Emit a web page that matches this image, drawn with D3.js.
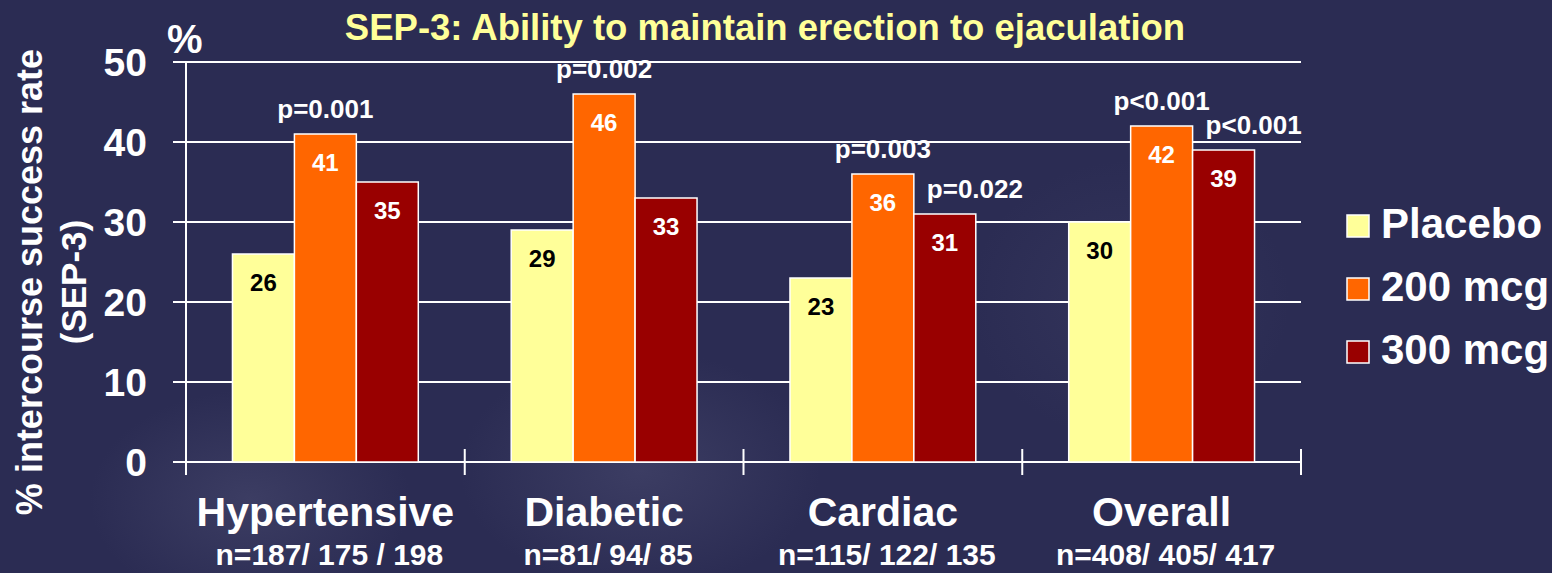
<!DOCTYPE html>
<html>
<head>
<meta charset="utf-8">
<script src="https://cdn.jsdelivr.net/npm/d3@7"></script>
<style>
  html, body { margin: 0; padding: 0; background: #2b2c53; }
  svg { display: block; font-family: "Liberation Sans", Arial, sans-serif; font-weight: bold; }
</style>
</head>
<body>
<div id="chart"></div>
<script>
  const categories = ['Hypertensive', 'Diabetic', 'Cardiac', 'Overall']
  const sampleSizes = ['n=187/ 175 / 198', 'n=81/ 94/ 85', 'n=115/ 122/ 135', 'n=408/ 405/ 417']
  const series = ['Placebo', '200 mcg', '300 mcg']
  const placebo = [26, 29, 23, 30]
  const mcg200 = [41, 46, 36, 42]
  const mcg300 = [35, 33, 31, 39]
  const pValues200 = ['p=0.001', 'p=0.002', 'p=0.003', 'p<0.001']
  const pValues300 = ['', '', 'p=0.022', 'p<0.001']
  const yTicks = [0, 10, 20, 30, 40, 50]

  const width = 1552
  const height = 573
  const colors = { 'Placebo': '#ffff99', '200 mcg': '#ff6600', '300 mcg': '#990000' }
  const labelColors = { 'Placebo': '#000000', '200 mcg': '#ffffff', '300 mcg': '#ffffff' }
  const values = { 'Placebo': placebo, '200 mcg': mcg200, '300 mcg': mcg300 }
  const pValues = { '200 mcg': pValues200, '300 mcg': pValues300 }

  const svg = d3.select('#chart')
    .append('svg')
    .attr('width', width)
    .attr('height', height)

  // soft background blotches
  const defs = svg.append('defs')
  const glow = defs.append('radialGradient').attr('id', 'glow')
  glow.append('stop').attr('offset', '0%').attr('stop-color', '#4a4b70').attr('stop-opacity', 0.55)
  glow.append('stop').attr('offset', '100%').attr('stop-color', '#4a4b70').attr('stop-opacity', 0)

  svg.append('rect').attr('width', width).attr('height', height).attr('fill', '#2b2c53')
  svg.append('ellipse').attr('cx', 250).attr('cy', 500).attr('rx', 160).attr('ry', 110).attr('fill', 'url(#glow)')
  svg.append('ellipse').attr('cx', 640).attr('cy', 470).attr('rx', 180).attr('ry', 120).attr('fill', 'url(#glow)')
  svg.append('ellipse').attr('cx', 1130).attr('cy', 300).attr('rx', 160).attr('ry', 140).attr('fill', 'url(#glow)').attr('opacity', 0.5)

  const x = d3.scaleBand()
    .domain(categories)
    .range([186, 1301])

  const bw = x.bandwidth()
  const xInner = d3.scaleBand()
    .domain(series)
    .range([bw / 6, bw * 5 / 6])

  const y = d3.scaleLinear()
    .domain([0, 50])
    .range([462, 62])

  // gridlines with left tick stubs
  svg.append('g')
    .selectAll('line')
    .data(yTicks)
    .enter()
    .append('line')
    .attr('x1', 173)
    .attr('x2', 1301)
    .attr('y1', function (d) { return y(d) })
    .attr('y2', function (d) { return y(d) })
    .attr('stroke', '#ffffff')
    .attr('stroke-width', 2)

  svg.append('line')
    .attr('x1', 186).attr('x2', 186)
    .attr('y1', y(50)).attr('y2', 475)
    .attr('stroke', '#ffffff').attr('stroke-width', 2)

  // category boundary ticks
  const boundaries = categories.map(function (c) { return x(c) }).concat([x(categories[3]) + bw])
  svg.append('g')
    .selectAll('line')
    .data(boundaries.slice(1))
    .enter()
    .append('line')
    .attr('x1', function (d) { return d })
    .attr('x2', function (d) { return d })
    .attr('y1', 449)
    .attr('y2', 475)
    .attr('stroke', '#ffffff')
    .attr('stroke-width', 2)

  // y tick labels
  svg.append('g')
    .selectAll('text')
    .data(yTicks)
    .enter()
    .append('text')
    .attr('x', 147)
    .attr('y', function (d) { return y(d) })
    .attr('dy', '0.36em')
    .attr('text-anchor', 'end')
    .attr('fill', '#ffffff')
    .attr('font-size', 39)
    .text(function (d) { return d })

  // bars
  const flat = []
  categories.forEach(function (c, i) {
    series.forEach(function (s) {
      flat.push({ cat: c, series: s, value: values[s][i], p: pValues[s] ? pValues[s][i] : '' })
    })
  })

  const bars = svg.append('g')
    .selectAll('g')
    .data(flat)
    .enter()
    .append('g')
    .attr('transform', function (d) { return 'translate(' + (x(d.cat) + xInner(d.series)) + ',0)' })

  bars.append('rect')
    .attr('x', 0)
    .attr('y', function (d) { return y(d.value) })
    .attr('width', xInner.bandwidth())
    .attr('height', function (d) { return y(0) - y(d.value) })
    .attr('fill', function (d) { return colors[d.series] })
    .attr('stroke', '#ffffff')
    .attr('stroke-width', 1.5)

  bars.append('text')
    .attr('x', xInner.bandwidth() / 2)
    .attr('y', function (d) { return y(d.value) + 37 })
    .attr('text-anchor', 'middle')
    .attr('fill', function (d) { return labelColors[d.series] })
    .attr('font-size', 24)
    .text(function (d) { return d.value })

  bars.filter(function (d) { return d.p })
    .append('text')
    .attr('x', function (d) { return d.series === '300 mcg' ? 13 : xInner.bandwidth() / 2 })
    .attr('y', function (d) { return y(d.value) - 16 })
    .attr('text-anchor', function (d) { return d.series === '300 mcg' ? 'start' : 'middle' })
    .attr('fill', '#ffffff')
    .attr('font-size', 26)
    .text(function (d) { return d.p })

  // category labels
  svg.append('g')
    .selectAll('text')
    .data(categories)
    .enter()
    .append('text')
    .attr('x', function (d) { return x(d) + bw / 2 })
    .attr('y', 526)
    .attr('text-anchor', 'middle')
    .attr('fill', '#ffffff')
    .attr('font-size', 41)
    .text(function (d) { return d })

  svg.append('g')
    .selectAll('text')
    .data(sampleSizes)
    .enter()
    .append('text')
    .attr('x', function (d, i) { return x(categories[i]) + bw / 2 + 4 })
    .attr('y', 565)
    .attr('text-anchor', 'middle')
    .attr('fill', '#ffffff')
    .attr('font-size', 30)
    .text(function (d) { return d })

  // title, unit, y axis title
  svg.append('text')
    .attr('x', 765)
    .attr('y', 40)
    .attr('text-anchor', 'middle')
    .attr('fill', '#ffff99')
    .attr('font-size', 36.5)
    .text('SEP-3: Ability to maintain erection to ejaculation')

  svg.append('text')
    .attr('x', 167)
    .attr('y', 53)
    .attr('fill', '#ffffff')
    .attr('font-size', 40)
    .text('%')

  svg.append('text')
    .attr('transform', 'translate(42,282) rotate(-90)')
    .attr('text-anchor', 'middle')
    .attr('fill', '#ffffff')
    .attr('font-size', 36)
    .text('% intercourse success rate')

  svg.append('text')
    .attr('transform', 'translate(86,282) rotate(-90)')
    .attr('text-anchor', 'middle')
    .attr('fill', '#ffffff')
    .attr('font-size', 35)
    .text('(SEP-3)')

  // legend
  const legend = svg.append('g')
    .selectAll('g')
    .data(series)
    .enter()
    .append('g')
    .attr('transform', function (d, i) { return 'translate(1347,' + (215 + i * 63) + ')' })

  legend.append('rect')
    .attr('width', 22)
    .attr('height', 22)
    .attr('fill', function (d) { return colors[d] })
    .attr('stroke', '#ffffff')
    .attr('stroke-width', 1.5)

  legend.append('text')
    .attr('x', 34)
    .attr('y', 23)
    .attr('fill', '#ffffff')
    .attr('font-size', 42)
    .text(function (d) { return d })
</script>
</body>
</html>
